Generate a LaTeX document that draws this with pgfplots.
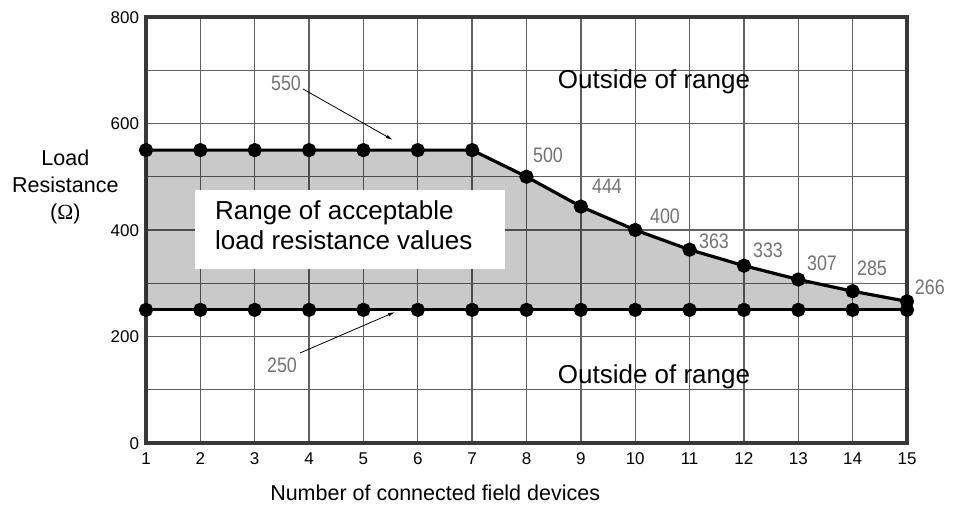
\documentclass[border=0pt]{standalone}
\usepackage{pgfplots}
\pgfplotsset{compat=1.18}
\usetikzlibrary{arrows.meta}
\usepackage{fontspec}
\setmainfont{Liberation Sans}
\newfontfamily\seriffont{Liberation Serif}
\newfontfamily\numfont[FakeStretch=0.85]{Liberation Sans}
\begin{document}
\begin{tikzpicture}[x=1bp,y=1bp]
\useasboundingbox (0,0) rectangle (957,508);
\begin{axis}[
  at={(146bp,65bp)}, anchor=south west,
  width=761bp, height=426bp, scale only axis,
  xmin=1, xmax=15, ymin=0, ymax=800,
  xtick={1,...,15}, ytick={0,100,...,800},
  yticklabels={0,,200,,400,,600,,800},
  grid=major,
  major grid style={black!62, line width=1.4bp},
  axis line style={black!78, line width=3.8bp},
  major tick length=0pt,
  tick label style={font=\fontsize{17bp}{20bp}\selectfont},
  /pgf/number format/assume math mode=true,
  xticklabel style={anchor=north, text height=12.2bp, text depth=0pt, yshift=-5.5bp},
  yticklabel style={anchor=east, text height=12.2bp, text depth=0pt, xshift=-3.5bp},
  xlabel={Number of connected field devices},
  xlabel style={at={(axis description cs:0.38,-0.117)}, anchor=center, font=\fontsize{21.5bp}{25bp}\selectfont},
  every axis y label/.style={at={(axis description cs:-0.106,0.601)}, anchor=center, align=center, font=\fontsize{21.5bp}{27bp}\selectfont},
  ylabel={Load\\Resistance\\({\seriffont Ω})},
  clip=false,
]
% acceptable region
\addplot[draw=none, fill=black, fill opacity=0.21] coordinates {
  (1,250) (1,550) (2,550) (3,550) (4,550) (5,550) (6,550) (7,550) (8,500) (9,444)
  (10,400) (11,363) (12,333) (13,307) (14,285) (15,266) (15,250)} --cycle;
% white text box
\fill[white] (axis cs:1.901,326.8) rectangle (axis cs:7.604,475.1);
\node[anchor=base west, font=\fontsize{26bp}{30bp}\selectfont, inner sep=0pt] at (axis cs:2.269,418.8) {Range of acceptable};
\node[anchor=base west, font=\fontsize{26bp}{30bp}\selectfont, inner sep=0pt] at (axis cs:2.269,362.5) {load resistance values};
% lower limit
\addplot[black, line width=3.2bp, mark=*, mark size=5.5bp] coordinates {
  (1,250) (2,250) (3,250) (4,250) (5,250) (6,250) (7,250) (8,250)
  (9,250) (10,250) (11,250) (12,250) (13,250) (14,250) (15,250)};
% upper limit
\addplot[black, line width=3.2bp, mark=*, mark size=5.5bp] coordinates {
  (1,550) (2,550) (3,550) (4,550) (5,550) (6,550) (7,550) (8,500) (9,444)
  (10,400) (11,363) (12,333) (13,307) (14,285) (15,266)};
% region labels
\node[anchor=base, font=\fontsize{26bp}{30bp}\selectfont, inner sep=0pt] at (axis cs:10.345,664.8) {Outside of range};
\node[anchor=base, font=\fontsize{26bp}{30bp}\selectfont, inner sep=0pt] at (axis cs:10.345,112) {Outside of range};
% value labels
\begin{scope}[every node/.style={font=\numfont\fontsize{21bp}{24bp}\selectfont, text=black!55, inner sep=0pt}]
\node at (axis cs:3.575,676) {550};
\node at (axis cs:3.502,146.5) {250};
\node at (axis cs:8.395,541) {500};
\node at (axis cs:9.481,482.6) {444};
\node at (axis cs:10.548,426.3) {400};
\node at (axis cs:11.449,379.3) {363};
\node at (axis cs:12.442,362.4) {333};
\node at (axis cs:13.436,338) {307};
\node at (axis cs:14.356,328.6) {285};
\node at (axis cs:15.42,293) {266};
\end{scope}
\draw[-{Latex[length=7bp,width=3.5bp]}, line width=0.8bp] (axis cs:3.888,664.8) -- (axis cs:5.544,569);
\draw[-{Latex[length=7bp,width=3.5bp]}, line width=0.8bp] (axis cs:3.833,169) -- (axis cs:5.58,246);
\end{axis}
\end{tikzpicture}
\end{document}
